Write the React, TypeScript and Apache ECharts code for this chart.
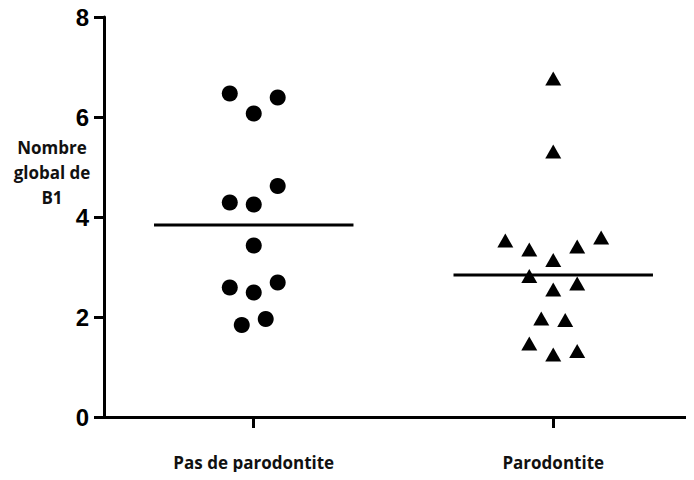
import React, { useEffect, useRef } from "react";
import * as echarts from "echarts";

const categories = ["Pas de parodontite", "Parodontite"];
const yTicks = [0, 2, 4, 6, 8];

// [x position (jittered around group index), value]
const group1Points: [number, number][] = [
  [0.92, 6.47],
  [1.0, 6.07],
  [1.08, 6.39],
  [1.08, 4.62],
  [0.92, 4.29],
  [1.0, 4.25],
  [1.0, 3.43],
  [0.92, 2.59],
  [1.0, 2.49],
  [1.08, 2.69],
  [0.96, 1.84],
  [1.04, 1.96],
];

const group2Points: [number, number][] = [
  [2.0, 6.77],
  [2.0, 5.31],
  [1.84, 3.53],
  [1.92, 3.35],
  [2.0, 3.14],
  [2.08, 3.41],
  [2.16, 3.59],
  [1.92, 2.82],
  [2.0, 2.55],
  [2.08, 2.67],
  [1.96, 1.97],
  [2.04, 1.94],
  [1.92, 1.47],
  [2.0, 1.25],
  [2.08, 1.32],
];

const medians = [3.84, 2.84];
const medianHalfWidth = 0.333;

export default function App() {
  const ref = useRef<HTMLDivElement>(null);
  useEffect(() => {
    if (!ref.current) return;
    const chart = echarts.init(ref.current, undefined, { renderer: "svg" });
    const medianSeries = medians.map((m, i) => ({
      type: "line",
      data: [
        [i + 1 - medianHalfWidth, m],
        [i + 1 + medianHalfWidth, m],
      ],
      symbol: "none",
      lineStyle: { color: "#000", width: 3 },
      z: 3,
    }));
    chart.setOption({
      animation: false,
      backgroundColor: "#fff",
      grid: { left: 104, right: 0, top: 17, bottom: 63, containLabel: false },
      xAxis: {
        type: "value",
        min: 0.5,
        max: 2.47,
        splitLine: { show: false },
        axisLine: { show: true, onZero: false, lineStyle: { color: "#000", width: 3 } },
        axisTick: {
          show: true,
          customValues: [1, 2],
          length: 11,
          lineStyle: { color: "#000", width: 3 },
        },
        axisLabel: {
          show: true,
          customValues: [1, 2],
          formatter: (v: number) => categories[Math.round(v) - 1] ?? "",
          color: "#111",
          fontFamily: "Open Sans",
          fontWeight: "bold",
          fontSize: 17,
          margin: 37,
        },
      },
      yAxis: {
        type: "value",
        min: 0,
        max: 8,
        interval: 2,
        splitLine: { show: false },
        axisLine: { show: true, lineStyle: { color: "#000", width: 3 } },
        axisTick: { show: true, length: 10, lineStyle: { color: "#000", width: 3 } },
        axisLabel: {
          color: "#000",
          fontFamily: "Liberation Sans",
          fontWeight: "bold",
          fontSize: 24,
          margin: 15,
          formatter: (v: number) => (yTicks.includes(v) ? String(v) : ""),
        },
      },
      graphic: [
        {
          type: "text",
          x: 52,
          y: 172,
          style: {
            text: "Nombre\nglobal de\nB1",
            fill: "#111",
            font: "bold 17px 'Open Sans'",
            lineHeight: 25,
            align: "center",
            verticalAlign: "middle",
          },
        },
      ],
      series: [
        {
          type: "scatter",
          data: group1Points,
          symbol: "circle",
          symbolSize: 16,
          itemStyle: { color: "#000", opacity: 1 },
          z: 2,
        },
        {
          type: "scatter",
          data: group2Points,
          symbol: "triangle",
          symbolSize: [16, 14],
          itemStyle: { color: "#000", opacity: 1 },
          z: 2,
        },
        ...medianSeries,
      ],
    });
    return () => chart.dispose();
  }, []);
  return <div ref={ref} style={{ width: 694, height: 480, margin: -8 }} />;
}
